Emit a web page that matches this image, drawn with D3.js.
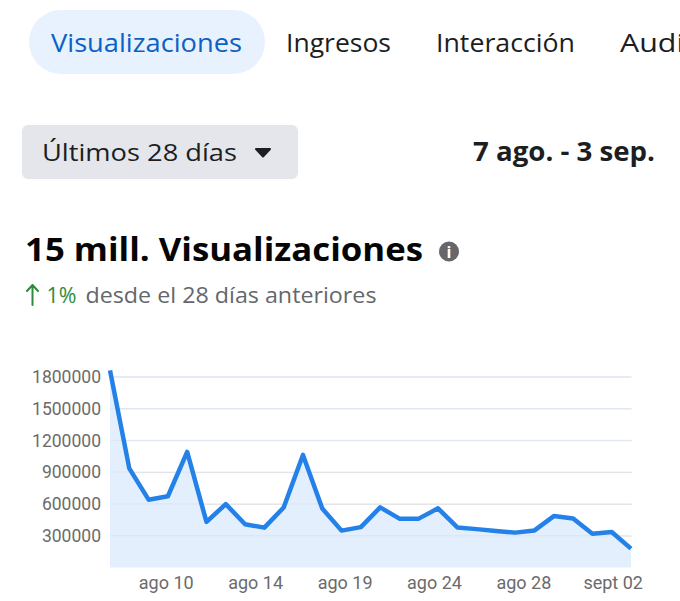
<!DOCTYPE html>
<html>
<head>
<meta charset="utf-8">
<script src="https://cdn.jsdelivr.net/npm/d3@7"></script>
<style>
  html, body { margin: 0; padding: 0; background: #fff; }
  svg { display: block; font-family: "Open Sans", "Noto Sans", sans-serif; }
</style>
</head>
<body>
<div id="canvas"></div>
<script>
// Tabs across the top
const tabs = ["Visualizaciones", "Ingresos", "Interacción", "Audiencia"];

// Daily views, 7 ago. - 3 sep.
const days = ["ago 07", "ago 08", "ago 09", "ago 10", "ago 11", "ago 12", "ago 13",
  "ago 14", "ago 15", "ago 16", "ago 17", "ago 18", "ago 19", "ago 20", "ago 21",
  "ago 22", "ago 23", "ago 24", "ago 25", "ago 26", "ago 27", "ago 28", "ago 29",
  "ago 30", "ago 31", "sept 01", "sept 02", "sept 03"];
const views = [1860000, 935000, 640000, 672000, 1090000, 430000, 598000, 408000,
  376000, 566000, 1062000, 556000, 348000, 381000, 567000, 461000, 461000, 558000,
  378000, 362000, 345000, 329000, 350000, 485000, 462000, 319000, 335000, 178000];

// Axis labels
const yTicks = [300000, 600000, 900000, 1200000, 1500000, 1800000];
const xTickLabels = ["ago 10", "ago 14", "ago 19", "ago 24", "ago 28", "sept 02"];
const xTickAt = [2.89, 7.52, 12.16, 16.79, 21.42, 26.05]; // in day index units

const width = 680, height = 601;
const chart = { left: 110, right: 631, top: 376.7, bottom: 567.5 };

const svg = d3.select("#canvas")
  .append("svg")
  .attr("width", width)
  .attr("height", height);

// helper: text squeezed to the measured width
function label(g, xPos, yPos, str, size, len, opts = {}) {
  return g.append("text")
    .attr("x", xPos).attr("y", yPos)
    .attr("font-size", size)
    .attr("font-weight", opts.bold ? "bold" : null)
    .attr("fill", opts.fill || "#1c1e21")
    .attr("textLength", len)
    .attr("lengthAdjust", "spacingAndGlyphs")
    .text(str);
}

// --- tabs ---
const tabX = [51, 286, 436, 620];
const tabW = [191, 105, 139, 139];
svg.append("rect")
  .attr("x", 29).attr("y", 10)
  .attr("width", 236).attr("height", 64)
  .attr("rx", 32)
  .attr("fill", "#e8f2fe");

tabs.forEach((t, i) => {
  label(svg, tabX[i], 52, t, 25, tabW[i], { fill: i === 0 ? "#0b61c4" : "#1c1e21" });
});

// --- date range row ---
svg.append("rect")
  .attr("x", 22).attr("y", 125)
  .attr("width", 276).attr("height", 54)
  .attr("rx", 6)
  .attr("fill", "#e4e6eb");

label(svg, 42, 161, "Últimos 28 días", 24, 195);

svg.append("path")
  .attr("d", "M256,149 L270,149 L263,156.5 Z")
  .attr("fill", "#1c1e21")
  .attr("stroke", "#1c1e21")
  .attr("stroke-width", 2)
  .attr("stroke-linejoin", "round");

label(svg, 473, 161, "7 ago. - 3 sep.", 26, 182, { bold: true });

// --- headline ---
label(svg, 25, 261, "15 mill. Visualizaciones", 33, 398, { bold: true, fill: "#050505" });

const info = svg.append("g").attr("transform", "translate(449,251.5)");
info.append("circle").attr("r", 10).attr("fill", "#65676b");
info.append("text")
  .attr("y", 6)
  .attr("text-anchor", "middle")
  .attr("font-size", 16)
  .attr("font-weight", "bold")
  .attr("fill", "#fff")
  .text("i");

// up arrow, drawn taller than the font glyph
svg.append("path")
  .attr("d", "M32.5,305 L32.5,285 M27,291 L32.5,285 L38,291")
  .attr("fill", "none")
  .attr("stroke", "#2e8b3c")
  .attr("stroke-width", 2)
  .attr("stroke-linecap", "round")
  .attr("stroke-linejoin", "round");
label(svg, 46.5, 302.5, "1%", 21, 30, { fill: "#2e8b3c" });
label(svg, 85.5, 302.5, "desde el 28 días anteriores", 21, 291, { fill: "#65676b" });

// --- chart ---
const x = d3.scaleLinear()
  .domain([0, days.length - 1])
  .range([chart.left, chart.right]);

const y = d3.scaleLinear()
  .domain([0, 1800000])
  .range([chart.bottom, chart.top]);

// gridlines + y labels
const yAxis = svg.append("g")
  .attr("transform", `translate(${chart.left},0)`)
  .call(d3.axisLeft(y)
    .tickValues(yTicks)
    .tickSize(-(chart.right - chart.left + 1))
    .tickPadding(9)
    .tickFormat(d3.format("d")));
yAxis.select(".domain").remove();
yAxis.selectAll(".tick line").attr("stroke", "#e6e6e6");
yAxis.selectAll(".tick text")
  .attr("font-size", 18)
  .attr("fill", "#6b6b6b")
  .attr("font-family", "Roboto, sans-serif")
  .attr("textLength", d => String(d).length * 9.85)
  .attr("lengthAdjust", "spacingAndGlyphs");

// area
svg.append("path")
  .datum(views)
  .attr("fill", "#e3effd")
  .attr("d", d3.area()
    .x((d, i) => x(i))
    .y0(y(0))
    .y1(d => y(d)));

// gridlines show faintly through the area
svg.append("g")
  .selectAll("line")
  .data(yTicks)
  .join("line")
  .attr("x1", chart.left).attr("x2", chart.right)
  .attr("y1", d => y(d)).attr("y2", d => y(d))
  .attr("stroke", "#d3e0ef")
  .attr("stroke-opacity", 0.6);

// line
svg.append("path")
  .datum(views)
  .attr("fill", "none")
  .attr("stroke", "#2381e8")
  .attr("stroke-width", 4.5)
  .attr("stroke-linejoin", "round")
  .attr("d", d3.line()
    .x((d, i) => x(i))
    .y(d => y(d)));

// x labels
const xAxis = svg.append("g")
  .attr("transform", `translate(0,${chart.bottom})`)
  .call(d3.axisBottom(x)
    .tickValues(xTickAt)
    .tickSize(0)
    .tickPadding(9)
    .tickFormat((d, i) => xTickLabels[i]));
xAxis.select(".domain").remove();
xAxis.selectAll(".tick text")
  .attr("font-size", 18)
  .attr("fill", "#6b6b6b")
  .attr("font-family", "Roboto, sans-serif");
</script>
</body>
</html>
